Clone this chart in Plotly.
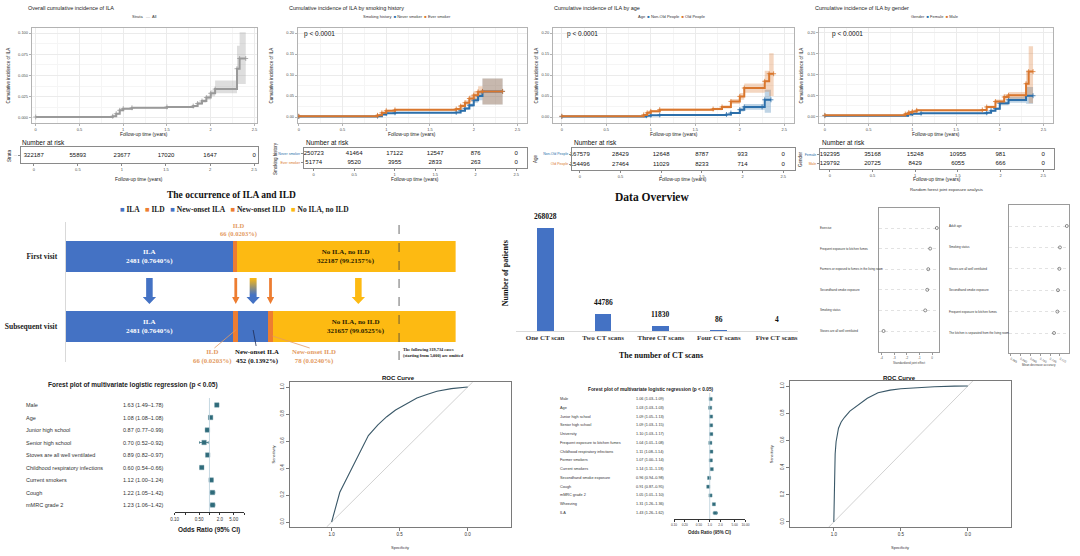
import plotly.graph_objects as go

W, H = 1080, 556
SANS = "Liberation Sans, Arial, sans-serif"
SERIF = "Liberation Serif, Times New Roman, serif"

# ======================= DATA =======================
# Cumulative incidence curves
km_time_all = [0, 0.88, 0.92, 0.96, 1.00, 1.10, 1.50, 1.80, 1.85, 1.90, 1.95, 2.00, 2.05, 2.30, 2.33, 2.40]
km_inc_all = [0.0012, 0.0020, 0.0050, 0.0090, 0.0110, 0.0120, 0.0130, 0.0140, 0.0170, 0.0200, 0.0240, 0.0290, 0.0340, 0.0580, 0.0700, 0.0700]
km_lo_all = [0.0008, 0.0015, 0.0042, 0.0080, 0.0100, 0.0110, 0.0120, 0.0130, 0.0155, 0.0180, 0.0215, 0.0255, 0.0290, 0.0400, 0.0400, 0.0400]
km_hi_all = [0.0016, 0.0025, 0.0058, 0.0100, 0.0120, 0.0130, 0.0140, 0.0150, 0.0185, 0.0220, 0.0265, 0.0325, 0.0440, 0.0850, 0.1010, 0.1010]

smk_time = [0, 0.90, 0.95, 1.00, 1.10, 1.80, 1.85, 1.90, 1.95, 2.00, 2.05, 2.10, 2.33]
smk_inc_never = [0.001, 0.002, 0.006, 0.009, 0.010, 0.011, 0.015, 0.020, 0.028, 0.040, 0.050, 0.061, 0.061]
smk_lo_never = [0.0005, 0.0015, 0.005, 0.008, 0.009, 0.010, 0.013, 0.017, 0.024, 0.034, 0.040, 0.030, 0.030]
smk_hi_never = [0.0015, 0.0025, 0.007, 0.010, 0.011, 0.012, 0.017, 0.023, 0.032, 0.046, 0.060, 0.092, 0.092]
smk_inc_ever = [0.002, 0.004, 0.010, 0.015, 0.017, 0.019, 0.026, 0.034, 0.044, 0.052, 0.060, 0.061, 0.061]
smk_lo_ever = [0.001, 0.003, 0.008, 0.013, 0.015, 0.016, 0.021, 0.028, 0.036, 0.042, 0.047, 0.030, 0.030]
smk_hi_ever = [0.003, 0.005, 0.012, 0.017, 0.019, 0.022, 0.031, 0.040, 0.052, 0.062, 0.073, 0.092, 0.092]

age_time_nonold = [0, 0.95, 1.00, 1.10, 1.85, 1.90, 2.00, 2.05, 2.25, 2.28, 2.35]
age_inc_nonold = [0.001, 0.003, 0.004, 0.005, 0.006, 0.0095, 0.0175, 0.024, 0.024, 0.041, 0.041]
age_lo_nonold = [0.0005, 0.002, 0.003, 0.004, 0.005, 0.007, 0.013, 0.017, 0.017, 0.010, 0.010]
age_hi_nonold = [0.0015, 0.004, 0.005, 0.006, 0.007, 0.012, 0.022, 0.031, 0.031, 0.065, 0.065]
age_time_old = [0, 0.92, 0.96, 1.00, 1.10, 1.70, 1.80, 1.90, 2.00, 2.05, 2.28, 2.33, 2.38]
age_inc_old = [0.002, 0.005, 0.010, 0.0135, 0.0175, 0.019, 0.024, 0.037, 0.049, 0.069, 0.085, 0.103, 0.103]
age_lo_old = [0.001, 0.004, 0.008, 0.011, 0.015, 0.016, 0.020, 0.031, 0.041, 0.058, 0.060, 0.050, 0.050]
age_hi_old = [0.003, 0.006, 0.012, 0.016, 0.020, 0.022, 0.028, 0.043, 0.057, 0.080, 0.110, 0.152, 0.152]

sex_time_female = [0, 0.95, 1.00, 1.10, 1.85, 1.90, 1.95, 2.00, 2.10, 2.30, 2.38]
sex_inc_female = [0.001, 0.004, 0.006, 0.007, 0.008, 0.013, 0.018, 0.031, 0.039, 0.049, 0.049]
sex_lo_female = [0.0005, 0.003, 0.005, 0.006, 0.007, 0.011, 0.015, 0.026, 0.032, 0.030, 0.030]
sex_hi_female = [0.0015, 0.005, 0.007, 0.008, 0.009, 0.015, 0.021, 0.036, 0.046, 0.070, 0.070]
sex_time_male = [0, 0.92, 0.96, 1.00, 1.05, 1.80, 1.85, 1.95, 2.05, 2.10, 2.30, 2.33, 2.38]
sex_inc_male = [0.002, 0.005, 0.009, 0.011, 0.014, 0.015, 0.022, 0.035, 0.046, 0.050, 0.078, 0.107, 0.107]
sex_lo_male = [0.001, 0.004, 0.007, 0.009, 0.012, 0.013, 0.019, 0.030, 0.039, 0.042, 0.050, 0.031, 0.031]
sex_hi_male = [0.003, 0.006, 0.011, 0.013, 0.016, 0.017, 0.025, 0.040, 0.053, 0.058, 0.110, 0.168, 0.168]

risk_times = [0, 0.5, 1, 1.5, 2, 2.5]
risk_tick_text = ["0", "0.5", "1", "1.5", "2", "2.5"]
risk_all = [322187, 55893, 23677, 17020, 1647, 0]
risk_never = [250723, 41464, 17122, 12547, 876, 0]
risk_ever = [51774, 9520, 3955, 2833, 263, 0]
risk_nonold = [167579, 28429, 12648, 8787, 933, 0]
risk_old = [154496, 27464, 11029, 8233, 714, 0]
risk_female = [192395, 35168, 15248, 10955, 981, 0]
risk_male = [129792, 20725, 8429, 6055, 666, 0]

# ILA / ILD occurrence
visit_labels = ["First visit", "Subsequent visit"]
seg_names = ["ILA", "ILD", "New-onset ILA", "New-onset ILD", "No ILA, no ILD"]
first_counts = [2481, 66, 0, 0, 322187]
first_pcts = ["0.7640%", "0.0203%", "", "", "99.2157%"]
subseq_counts = [2481, 66, 452, 78, 321657]
subseq_pcts = ["0.7640%", "0.0203%", "0.1392%", "0.0240%", "99.0525%"]
# schematic (not to scale) display widths of the segments
first_display = [169, 4, 0, 0, 220]
subseq_display = [169, 5, 30, 5, 184]

# Data overview
ct_categories = ["One CT scan", "Two CT scans", "Three CT scans", "Four CT scans", "Five CT scans"]
ct_patients = [268028, 44786, 11830, 86, 4]

# Random forest joint exposure analysis
rf_left_vars = ["Exercise", "Frequent exposure to kitchen fumes",
                "Farmers or exposed to fumes in the living room", "Secondhand smoke exposure",
                "Smoking status", "Stoves are all well ventilated"]
rf_left_vals = [0.38, -0.15, -0.30, -0.38, -0.54, -3.85]
rf_left_ticks = [-4, -3, -2, -1, 0]
rf_right_vars = ["Adult age", "Smoking status", "Stoves are all well ventilated",
                 "Secondhand smoke exposure", "Frequent exposure to kitchen fumes",
                 "The kitchen is separated from the living room"]
rf_right_vals = [0.1135, 0.1100, 0.1097, 0.1090, 0.1087, 0.1070]
rf_right_ticks = [0.085, 0.090, 0.095, 0.100, 0.105, 0.110]

# Forest plots
fp1_vars = ["Male", "Age", "Junior high school", "Senior high school", "Stoves are all well ventilated",
            "Childhood respiratory infections", "Current smokers", "Cough", "mMRC grade 2"]
fp1_or = [1.63, 1.08, 0.87, 0.70, 0.89, 0.60, 1.12, 1.22, 1.23]
fp1_lo = [1.49, 1.08, 0.77, 0.52, 0.82, 0.54, 1.00, 1.05, 1.06]
fp1_hi = [1.78, 1.08, 0.99, 0.92, 0.97, 0.66, 1.24, 1.42, 1.42]
fp1_ticks = [0.1, 0.2, 0.5, 1, 2, 5, 10]
fp1_ticktext = ["0.10", "", "0.50", "", "2.0", "5.00", ""]

fp2_vars = ["Male", "Age", "Junior high school", "Senior high school", "University",
            "Frequent exposure to kitchen fumes", "Childhood respiratory infections", "Former smokers",
            "Current smokers", "Secondhand smoke exposure", "Cough", "mMRC grade 2", "Wheezing", "ILA"]
fp2_or = [1.06, 1.03, 1.09, 1.09, 1.10, 1.04, 1.11, 1.07, 1.14, 0.96, 0.91, 1.05, 1.31, 1.43]
fp2_lo = [1.03, 1.03, 1.05, 1.03, 1.03, 1.01, 1.08, 1.00, 1.11, 0.94, 0.87, 1.01, 1.26, 1.26]
fp2_hi = [1.09, 1.03, 1.13, 1.15, 1.17, 1.08, 1.14, 1.14, 1.18, 0.98, 0.95, 1.10, 1.36, 1.62]
fp2_ticks = [0.1, 0.2, 0.5, 1, 2, 5, 10]
fp2_ticktext = ["0.10", "0.20", "0.50", "1.0", "2.0", "5.00", "10.00"]

# ROC curves
roc1_spec = [1.0, 0.975, 0.94, 0.865, 0.80, 0.73, 0.66, 0.595, 0.53, 0.47, 0.42, 0.373, 0.30, 0.226, 0.12, 0.0]
roc1_sens = [0.0, 0.10, 0.22, 0.37, 0.506, 0.64, 0.72, 0.78, 0.83, 0.864, 0.89, 0.918, 0.945, 0.968, 0.988, 1.0]
roc2_spec = [1.0, 0.998, 0.995, 0.99, 0.983, 0.975, 0.965, 0.945, 0.92, 0.88, 0.82, 0.75, 0.67, 0.58, 0.5, 0.35, 0.25, 0.1, 0.0]
roc2_sens = [0.0, 0.15, 0.346, 0.5, 0.59, 0.65, 0.69, 0.735, 0.77, 0.815, 0.86, 0.91, 0.95, 0.97, 0.98, 0.99, 0.995, 0.999, 1.0]

# ======================= STYLE / HELPERS =======================
KM_BLUE = "#2C6FAA"
KM_ORANGE = "#D9772E"
KM_GRAY = "#9A9A9A"
FILL_BLUE = "rgba(44,111,170,0.30)"
FILL_ORANGE = "rgba(217,119,46,0.30)"
FILL_GRAY = "rgba(160,160,160,0.35)"
GRID = "#EBEBEB"
GRID_MINOR = "#F5F5F5"
BORDER = "#B3B3B3"
TICKC = "#4D4D4D"
XL_BLUE = "#4472C4"
XL_ORANGE = "#ED7D31"
XL_YELLOW = "#FDBA12"
SEG_COLORS = [XL_BLUE, XL_ORANGE, XL_BLUE, XL_ORANGE, XL_YELLOW]
LBL_ORANGE = "#E39A62"
FP_COL = "#2F6B7A"
ROC_COL = "#3A5868"


def X(p):
    return p / W


def Y(p):
    return 1 - p / H


def dom_x(a, b):
    return [a / W, b / W]


def dom_y(top, bottom):
    return [1 - bottom / H, 1 - top / H]


def aname(kind, n):
    return f"{kind}axis{'' if n == 1 else n}"


def aref(kind, n):
    return f"{kind}{'' if n == 1 else n}"


traces = []
ann = []
shp = []
L = {}


def txt(x, y, text, size, color="#222", family=SANS, xanchor="center", yanchor="middle",
        angle=0, xref="paper", yref="paper", align="center", yshift=0):
    ann.append(dict(x=x, y=y, xref=xref, yref=yref, text=text, showarrow=False,
                    font=dict(size=size, color=color, family=family), xanchor=xanchor,
                    yanchor=yanchor, textangle=angle, align=align, yshift=yshift))


# ======================= KM PANELS =======================
def leg(items):
    return "  ".join(f"<span style='color:{c}'>■</span> {n}" for n, c in items)


km_panels = [
    dict(n=1, box=(28, 28, 255, 123), xr=[-0.045, 2.53], yr=[-0.0059, 0.1059],
         yt=[0, 0.025, 0.05, 0.075, 0.1], ytt=["0.000", "0.025", "0.050", "0.075", "0.100"], ydt=0.0125,
         series=[(km_time_all, km_inc_all, km_lo_all, km_hi_all, KM_GRAY, FILL_GRAY)],
         title="Overall cumulative incidence of ILA", tx=22,
         legend=f"Strata   <span style='color:{KM_GRAY}'>—</span>  All", lx=142, ytx=5, p=None),
    dict(n=2, box=(296, 28, 527, 123), xr=[-0.011, 2.61], yr=[-0.0143, 0.212],
         yt=[0, 0.05, 0.1, 0.15, 0.2], ytt=["0.00", "0.05", "0.10", "0.15", "0.20"], ydt=0.025,
         series=[(smk_time, smk_inc_never, smk_lo_never, smk_hi_never, KM_BLUE, FILL_BLUE),
                 (smk_time, smk_inc_ever, smk_lo_ever, smk_hi_ever, KM_ORANGE, FILL_ORANGE)],
         title="Cumulative incidence of ILA by smoking history", tx=285,
         legend="Smoking history  " + leg([("Never smoker", KM_BLUE), ("Ever smoker", KM_ORANGE)]),
         lx=406, ytx=269, p=300),
    dict(n=3, box=(553, 28, 796, 123), xr=[-0.10, 2.61], yr=[-0.0143, 0.212],
         yt=[0, 0.05, 0.1, 0.15, 0.2], ytt=["0.00", "0.05", "0.10", "0.15", "0.20"], ydt=0.025,
         series=[(age_time_nonold, age_inc_nonold, age_lo_nonold, age_hi_nonold, KM_BLUE, FILL_BLUE),
                 (age_time_old, age_inc_old, age_lo_old, age_hi_old, KM_ORANGE, FILL_ORANGE)],
         title="Cumulative incidence of ILA by age", tx=552,
         legend="Age  " + leg([("Non-Old People", KM_BLUE), ("Old People", KM_ORANGE)]),
         lx=673, ytx=536, p=565),
    dict(n=4, box=(821, 28, 1057, 123), xr=[-0.068, 2.61], yr=[-0.0165, 0.2118],
         yt=[0, 0.05, 0.1, 0.15, 0.2], ytt=["0.00", "0.05", "0.10", "0.15", "0.20"], ydt=0.025,
         series=[(sex_time_female, sex_inc_female, sex_lo_female, sex_hi_female, KM_BLUE, FILL_BLUE),
                 (sex_time_male, sex_inc_male, sex_lo_male, sex_hi_male, KM_ORANGE, FILL_ORANGE)],
         title="Cumulative incidence of ILA by gender", tx=815,
         legend="Gender  " + leg([("Female", KM_BLUE), ("Male", KM_ORANGE)]),
         lx=938, ytx=803, p=832),
]

for P in km_panels:
    n = P["n"]
    x0, y0, x1, y1 = P["box"]
    xa, ya = aref("x", n), aref("y", n)
    L[aname("x", n)] = dict(domain=dom_x(x0, x1), range=P["xr"], anchor=ya,
                            tickvals=risk_times, ticktext=risk_tick_text,
                            showgrid=True, gridcolor=GRID, gridwidth=0.6,
                            minor=dict(dtick=0.25, tick0=0, showgrid=True, gridcolor=GRID_MINOR),
                            showline=True, mirror=True, linecolor=BORDER, linewidth=0.8,
                            ticks="outside", ticklen=2, tickcolor=BORDER,
                            tickfont=dict(size=4, color=TICKC), zeroline=False)
    L[aname("y", n)] = dict(domain=dom_y(y0, y1), range=P["yr"], anchor=xa,
                            tickvals=P["yt"], ticktext=P["ytt"],
                            showgrid=True, gridcolor=GRID, gridwidth=0.6,
                            minor=dict(dtick=P["ydt"], tick0=0, showgrid=True, gridcolor=GRID_MINOR),
                            showline=True, mirror=True, linecolor=BORDER, linewidth=0.8,
                            ticks="outside", ticklen=2, tickcolor=BORDER,
                            tickfont=dict(size=4, color=TICKC), zeroline=False)
    for (t, inc, lo, hi, col, fc) in P["series"]:
        traces.append(go.Scatter(x=t, y=lo, mode="lines", line=dict(width=0, shape="hv", color=col),
                                 xaxis=xa, yaxis=ya, hoverinfo="skip"))
        traces.append(go.Scatter(x=t, y=hi, mode="lines", line=dict(width=0, shape="hv", color=col),
                                 fill="tonexty", fillcolor=fc, xaxis=xa, yaxis=ya, hoverinfo="skip"))
    for (t, inc, lo, hi, col, fc) in P["series"]:
        traces.append(go.Scatter(x=t, y=inc, mode="lines+markers",
                                 line=dict(width=2.0, shape="hv", color=col),
                                 marker=dict(symbol="cross-thin", size=3.5, line=dict(width=0.8, color=col)),
                                 xaxis=xa, yaxis=ya, hoverinfo="skip"))
    txt(X(P["tx"]), Y(8), P["title"], 5.5, "#222", xanchor="left")
    txt(X(P["lx"]), Y(16), P["legend"], 4, "#333")
    txt(X(P["ytx"]), Y((y0 + y1) / 2), "Cumulative incidence of ILA", 4.5, "#222", angle=-90)
    txt(X((x0 + x1) / 2), Y(134), "Follow-up time (years)", 4.8, "#222")
    if P["p"] is not None:
        txt(X(P["p"]), Y(34), "p < 0.0001", 6.5, "#111", xanchor="left")

# ======================= RISK TABLES =======================
rt_panels = [
    dict(n=5, box=(17, 147, 256, 163), xr=[-0.146, 2.545],
         rows=[(risk_all, "—", KM_GRAY)], ytitle="Strata", ytx=5, nar=16),
    dict(n=6, box=(302, 148, 527, 168), xr=[-0.123, 2.635],
         rows=[(risk_never, "Never smoker", KM_BLUE), (risk_ever, "Ever smoker", KM_ORANGE)],
         ytitle="Smoking history", ytx=273, nar=302),
    dict(n=7, box=(572, 148, 797, 170), xr=[-0.098, 2.646],
         rows=[(risk_nonold, "Non-Old People", KM_BLUE), (risk_old, "Old People", KM_ORANGE)],
         ytitle="Age", ytx=535, nar=572),
    dict(n=8, box=(822, 149, 1058, 169), xr=[-0.116, 2.628],
         rows=[(risk_female, "Female", KM_BLUE), (risk_male, "Male", KM_ORANGE)],
         ytitle="Gender", ytx=802, nar=822),
]
for R in rt_panels:
    n = R["n"]
    x0, y0, x1, y1 = R["box"]
    xa, ya = aref("x", n), aref("y", n)
    nrows = len(R["rows"])
    yvals = list(range(nrows - 1, -1, -1))
    L[aname("x", n)] = dict(domain=dom_x(x0, x1), range=R["xr"], anchor=ya,
                            tickvals=risk_times, ticktext=risk_tick_text, showgrid=False,
                            zeroline=False, showline=True, mirror=True, linecolor="#8A8A8A",
                            linewidth=0.8, ticks="outside", ticklen=2, tickcolor="#8A8A8A",
                            tickfont=dict(size=4, color=TICKC))
    L[aname("y", n)] = dict(domain=dom_y(y0, y1), range=[-0.6, nrows - 1 + 0.6], anchor=xa,
                            tickvals=yvals,
                            ticktext=[f"<span style='color:{c}'>{lab}</span>" for (_, lab, c) in R["rows"]],
                            showgrid=False, zeroline=False, showline=True, mirror=True,
                            linecolor="#8A8A8A", linewidth=0.8, ticks="outside", ticklen=2,
                            tickcolor="#8A8A8A", tickfont=dict(size=3.5))
    for yv, (vals, lab, c) in zip(yvals, R["rows"]):
        traces.append(go.Scatter(x=risk_times, y=[yv] * len(risk_times), mode="text",
                                 text=[str(v) for v in vals],
                                 textfont=dict(size=6, color="#111", family=SANS),
                                 xaxis=xa, yaxis=ya, cliponaxis=False, hoverinfo="skip"))
    txt(X(R["nar"]), Y(143), "Number at risk", 6.5, "#111", xanchor="left")
    txt(X(R["ytx"]), Y((y0 + y1) / 2), R["ytitle"], 4.5, "#222", angle=-90)
    txt(X((x0 + x1) / 2), Y(179), "Follow-up time (years)", 4.8, "#222")

# ======================= ILA / ILD DIAGRAM =======================
BX0, BX1 = 62, 455          # bar area (px)
FIRST_C, SUB_C = 256.5, 326.5
ROWPX = SUB_C - FIRST_C
L["xaxis9"] = dict(domain=dom_x(BX0, BX1), range=[0, BX1 - BX0], anchor="y9", visible=False)
L["yaxis9"] = dict(domain=dom_y(FIRST_C - ROWPX / 2, SUB_C + ROWPX / 2), range=[-0.5, 1.5], anchor="x9",
                   tickvals=[1, 0], ticktext=[f"<b>{v}</b>" for v in visit_labels],
                   tickfont=dict(family=SERIF, size=7.5, color="#222"), ticks="outside", ticklen=6,
                   tickcolor="rgba(0,0,0,0)", showline=True, linecolor="#D9D9D9", linewidth=0.8,
                   showgrid=False, zeroline=False)
for i, name in enumerate(seg_names):
    traces.append(go.Bar(x=[first_display[i], subseq_display[i]], y=[1, 0], orientation="h",
                         width=31 / ROWPX, marker=dict(color=SEG_COLORS[i], line=dict(width=0)),
                         xaxis="x9", yaxis="y9", hoverinfo="skip"))


def centers(disp):
    out, acc = [], 0
    for w in disp:
        out.append(acc + w / 2)
        acc += w
    return out


fc, sc = centers(first_display), centers(subseq_display)


def y9(p):
    return (SUB_C - p) / ROWPX


BIG = 7
txt(fc[0], 1, f"<b>{seg_names[0]}<br>{first_counts[0]} ({first_pcts[0]})</b>", BIG, "white", SERIF, xref="x9", yref="y9")
txt(fc[4], 1, f"<b>{seg_names[4]}<br>{first_counts[4]} ({first_pcts[4]})</b>", BIG, "#2B2200", SERIF, xref="x9", yref="y9")
txt(sc[0], 0, f"<b>{seg_names[0]}<br>{subseq_counts[0]} ({subseq_pcts[0]})</b>", BIG, "white", SERIF, xref="x9", yref="y9")
txt(sc[4] - 8, 0, f"<b>{seg_names[4]}<br>{subseq_counts[4]} ({subseq_pcts[4]})</b>", BIG, "#2B2200", SERIF, xref="x9", yref="y9")
txt(fc[1] + 3, Y(230), f"<b>{seg_names[1]}<br>{first_counts[1]} ({first_pcts[1]})</b>", 6.5, LBL_ORANGE, SERIF,
    xref="x9", yref="paper")
# labels below the subsequent bar
below = [(1, 210 - BX0, LBL_ORANGE), (2, 255 - BX0, "#111"), (3, 312 - BX0, LBL_ORANGE)]
for idx, lx, col in below:
    txt(lx, Y(356), f"<b>{seg_names[idx]}<br>{subseq_counts[idx]} ({subseq_pcts[idx]})</b>", 6.8, col, SERIF,
        xref="x9", yref="paper")
# leader lines
leaders = [(sc[1], 330, 150, 348, LBL_ORANGE), (sc[2], 330, 192, 346, "#1F2D55"), (sc[3] + 2, 336, 246, 348, LBL_ORANGE)]
for xa_, ya_, xb_, yb_, col in leaders:
    shp.append(dict(type="line", xref="x9", yref="paper", x0=xa_, y0=Y(ya_), x1=xb_, y1=Y(yb_),
                    line=dict(color=col, width=0.8)))
# dashed omission line
OMIT_X = 398 - BX0
shp.append(dict(type="line", xref="x9", yref="paper", x0=OMIT_X, x1=OMIT_X, y0=Y(225), y1=Y(360),
                line=dict(color="#444", width=0.8, dash="dash")))
txt(OMIT_X + 2, Y(352), "<b>The following 319,734 cases<br>(starting from 5,000) are omitted</b>", 4.3,
    "#222", SERIF, xanchor="left", xref="x9", align="left")

# block arrows between the two bars
A_TOP, A_SB, A_TIP = y9(278), y9(297), y9(304)


def arrow_poly(cx, s, h):
    xs = [cx - s, cx + s, cx + s, cx + h, cx, cx - h, cx - s, cx - s]
    ys = [A_TOP, A_TOP, A_SB, A_SB, A_TIP, A_SB, A_SB, A_TOP]
    return xs, ys


arrows = [(fc[0], 3.3, 6.7, XL_BLUE), (fc[1] + 0.5, 1.4, 3.7, XL_ORANGE),
          (sc[3], 1.4, 3.7, XL_ORANGE), (295, 3.3, 6.7, XL_YELLOW)]
for cx, s, h, col in arrows:
    xs, ys = arrow_poly(cx, s, h)
    traces.append(go.Scatter(x=xs, y=ys, mode="lines", fill="toself", fillcolor=col,
                             line=dict(width=0, color=col), xaxis="x9", yaxis="y9", hoverinfo="skip"))
xs, ys = arrow_poly(sc[2], 3.5, 6.7)
traces.append(go.Scatter(x=xs, y=ys, mode="lines", fill="toself",
                         fillgradient=dict(type="vertical", colorscale=[[0, XL_BLUE], [0.35, XL_BLUE], [1, XL_YELLOW]],
                                           start=A_TIP, stop=A_TOP),
                         line=dict(width=0, color=XL_BLUE), xaxis="x9", yaxis="y9", hoverinfo="skip"))

txt(X(229), Y(195), "<b>The occurrence of ILA and ILD</b>", 9.5, "#111", SERIF)
legend9 = "   ".join(f"<span style='color:{c}'>■</span> {n}" for n, c in zip(seg_names, SEG_COLORS))
txt(X(232), Y(209), f"<b>{legend9}</b>", 7.5, "#222", SERIF)

# ======================= DATA OVERVIEW =======================
L["xaxis10"] = dict(domain=dom_x(516, 800), range=[-0.5, 4.37], anchor="y10", type="category",
                    tickvals=ct_categories, ticktext=[f"<b>{c}</b>" for c in ct_categories],
                    showline=True, linecolor="#D9D9D9", linewidth=1, ticks="", showgrid=False,
                    tickfont=dict(family=SERIF, size=7, color="#333"))
L["yaxis10"] = dict(domain=dom_y(215, 331), range=[0, 302000], anchor="x10", visible=False)
traces.append(go.Bar(x=ct_categories, y=ct_patients, width=0.29, marker=dict(color=XL_BLUE, line=dict(width=0)),
                     xaxis="x10", yaxis="y10", hoverinfo="skip"))
for c, v in zip(ct_categories, ct_patients):
    txt(c, v, f"<b>{v}</b>", 7.5, "#111", SERIF, yanchor="bottom", xref="x10", yref="y10", yshift=5)
txt(X(653), Y(197), "<b>Data Overview</b>", 11.5, "#111", SERIF)
txt(X(505), Y(273), "<b>Number of patients</b>", 8, "#111", SERIF, angle=-90)
txt(X(662), Y(355), "<b>The number of CT scans</b>", 8, "#111", SERIF)

# ======================= RANDOM FOREST =======================
rf_specs = [
    dict(n=11, box=(882, 208, 942, 352), rows=(228, 331), vars=rf_left_vars, vals=rf_left_vals,
         ticks=rf_left_ticks, ttext=[str(t) for t in rf_left_ticks], lab_x=820,
         xtitle="Standardized joint effect", xtx=912, xty=363),
    dict(n=12, box=(1012, 205, 1073, 353), rows=(226, 333), vars=rf_right_vars, vals=rf_right_vals,
         ticks=rf_right_ticks, ttext=[f"{t:.3f}" for t in rf_right_ticks], lab_x=950,
         xtitle="Mean decrease accuracy", xtx=1043, xty=365),
]
for S in rf_specs:
    n = S["n"]
    x0, y0, x1, y1 = S["box"]
    r_top, r_bot = S["rows"]
    k = len(S["vars"])
    step = (r_bot - r_top) / (k - 1)
    yr = [1 - (y1 - r_bot) / step, k + (r_top - y0) / step]
    xs_ticks = S["ticks"]
    lo = min(min(S["vals"]), xs_ticks[0])
    hi = max(max(S["vals"]), xs_ticks[-1])
    pad = (hi - lo) * 0.04
    L[aname("x", n)] = dict(domain=dom_x(x0, x1), range=[lo - pad, hi + pad], anchor=aref("y", n),
                            tickvals=xs_ticks, ticktext=S["ttext"], showgrid=False, zeroline=False,
                            showline=True, mirror=True, linecolor="#9A9A9A", linewidth=0.8,
                            ticks="outside", ticklen=2, tickcolor="#9A9A9A",
                            tickfont=dict(size=3, color="#555"))
    L[aname("y", n)] = dict(domain=dom_y(y0, y1), range=yr, anchor=aref("x", n),
                            tickvals=list(range(1, k + 1)), showticklabels=False, showgrid=True,
                            gridcolor="#E2E2E2", griddash="dot", gridwidth=0.6, zeroline=False,
                            showline=True, mirror=True, linecolor="#9A9A9A", linewidth=0.8, ticks="")
    yv = list(range(k, 0, -1))
    traces.append(go.Scatter(x=S["vals"], y=yv, mode="markers",
                             marker=dict(symbol="circle-open", size=3, color="#444", line=dict(width=0.6)),
                             xaxis=aref("x", n), yaxis=aref("y", n), hoverinfo="skip"))
    for v, yy in zip(S["vars"], yv):
        txt(X(S["lab_x"]), yy, v, 3, "#333", xanchor="left", yref=aref("y", n))
    txt(X(S["xtx"]), Y(S["xty"]), S["xtitle"], 3, "#444")
txt(X(950), Y(189), "Random forest joint exposure analysis", 4.3, "#333")

# ======================= FOREST PLOTS =======================
fp_specs = [
    dict(n=13, vars=fp1_vars, orv=fp1_or, lo=fp1_lo, hi=fp1_hi, ticks=fp1_ticks, ttext=fp1_ticktext,
         xdom=(172, 242), rows=(405, 505), axis_y=512, top_y=398, lab_x=20, val_x=118,
         lab_size=5.5, tick_size=4.5, msize=4.5, title_x=130, title_y=385, title_size=6.5,
         xt_y=530, xt_size=6.5),
    dict(n=15, vars=fp2_vars, orv=fp2_or, lo=fp2_lo, hi=fp2_hi, ticks=fp2_ticks, ttext=fp2_ticktext,
         xdom=(675, 747), rows=(399, 513), axis_y=519, top_y=393, lab_x=558, val_x=635,
         lab_size=3.8, tick_size=3.2, msize=3.2, title_x=652, title_y=389, title_size=4.8,
         xt_y=532, xt_size=4.5),
]
for F in fp_specs:
    n = F["n"]
    xa, ya = aref("x", n), aref("y", n)
    k = len(F["vars"])
    r_top, r_bot = F["rows"]
    step = (r_bot - r_top) / (k - 1)
    ylo = 1 - (F["axis_y"] - r_bot) / step
    yhi = k + (r_top - F["top_y"]) / step
    L[aname("x", n)] = dict(domain=dom_x(*F["xdom"]), type="log", range=[-1, 1], anchor=ya,
                            tickvals=F["ticks"], ticktext=F["ttext"], showgrid=False, zeroline=False,
                            showline=True, linecolor="#333", linewidth=0.8, ticks="outside", ticklen=2.5,
                            tickcolor="#333", tickfont=dict(size=F["tick_size"], color="#333"))
    L[aname("y", n)] = dict(domain=dom_y(F["top_y"], F["axis_y"]), range=[ylo, yhi], anchor=xa,
                            visible=False)
    yv = list(range(k, 0, -1))
    shp.append(dict(type="line", xref=xa, yref=ya, x0=1, x1=1, y0=ylo, y1=yhi,
                    line=dict(color="#B7CFDB", width=0.8)))
    traces.append(go.Scatter(x=F["orv"], y=yv, mode="markers",
                             marker=dict(symbol="square", size=F["msize"], color=FP_COL,
                                         line=dict(width=0.4, color="#6E9AA6")),
                             error_x=dict(type="data", symmetric=False,
                                          array=[h - o for h, o in zip(F["hi"], F["orv"])],
                                          arrayminus=[o - l for o, l in zip(F["orv"], F["lo"])],
                                          color=FP_COL, thickness=0.8, width=1.2),
                             xaxis=xa, yaxis=ya, hoverinfo="skip", cliponaxis=False))
    for v, o, l, h, yy in zip(F["vars"], F["orv"], F["lo"], F["hi"], yv):
        txt(X(F["lab_x"]), yy, v, F["lab_size"], "#333", xanchor="left", yref=ya)
        txt(X(F["val_x"]), yy, f"{o:.2f} ({l:.2f}–{h:.2f})", F["lab_size"], "#333", xanchor="left", yref=ya)
    txt(X(F["title_x"]), Y(F["title_y"]), "<b>Forest plot of multivariate logistic regression (p < 0.05)</b>",
        F["title_size"], "#222")
    txt(X(sum(F["xdom"]) / 2), Y(F["xt_y"]), "<b>Odds Ratio (95% CI)</b>", F["xt_size"], "#222")

# ======================= ROC CURVES =======================
roc_specs = [
    dict(n=14, spec=roc1_spec, sens=roc1_sens, box=(288, 382, 511, 527), xr=[1.307, -0.32],
         title_x=397, sens_x=272, spec_x=399),
    dict(n=16, spec=roc2_spec, sens=roc2_sens, box=(792, 381, 1015, 527), xr=[1.326, -0.326],
         title_x=902, sens_x=773, spec_x=903),
]
for Rc in roc_specs:
    n = Rc["n"]
    xa, ya = aref("x", n), aref("y", n)
    x0, y0, x1, y1 = Rc["box"]
    yr = [-0.037, 1.037]
    L[aname("x", n)] = dict(domain=dom_x(x0, x1), range=Rc["xr"], anchor=ya, tickvals=[1, 0.5, 0],
                            ticktext=["1.0", "0.5", "0.0"], showgrid=False, zeroline=False, showline=True,
                            mirror=True, linecolor="#7A7A7A", linewidth=0.8, ticks="outside", ticklen=3,
                            tickcolor="#7A7A7A", tickfont=dict(size=4.5, color="#333"))
    L[aname("y", n)] = dict(domain=dom_y(y0, y1), range=yr, anchor=xa,
                            tickvals=[0, 0.2, 0.4, 0.6, 0.8, 1.0],
                            ticktext=["0.0", "0.2", "0.4", "0.6", "0.8", "1.0"], tickangle=-90,
                            showgrid=False, zeroline=False, showline=True, mirror=True, linecolor="#7A7A7A",
                            linewidth=0.8, ticks="outside", ticklen=3, tickcolor="#7A7A7A",
                            tickfont=dict(size=4.5, color="#333"))
    traces.append(go.Scatter(x=[1 - yr[0], -(yr[1] - 1)], y=[yr[0], yr[1]], mode="lines",
                             line=dict(color="#CCCCCC", width=0.9), xaxis=xa, yaxis=ya, hoverinfo="skip"))
    traces.append(go.Scatter(x=Rc["spec"], y=Rc["sens"], mode="lines", line=dict(color=ROC_COL, width=1.1),
                             xaxis=xa, yaxis=ya, hoverinfo="skip"))
    txt(X(Rc["title_x"]), Y(378), "<b>ROC Curve</b>", 6, "#111")
    txt(X(Rc["sens_x"]), Y((y0 + y1) / 2), "Sensitivity", 4, "#333", angle=-90)
    txt(X(Rc["spec_x"]), Y(547), "Specificity", 4, "#333")

# ======================= FIGURE =======================
fig = go.Figure(data=traces)
fig.update_layout(width=W, height=H, margin=dict(l=0, r=0, t=0, b=0), paper_bgcolor="white",
                  plot_bgcolor="white", showlegend=False, barmode="stack",
                  font=dict(family=SANS, color="#222"), annotations=ann, shapes=shp, **L)
fig.write_html("out.html")
